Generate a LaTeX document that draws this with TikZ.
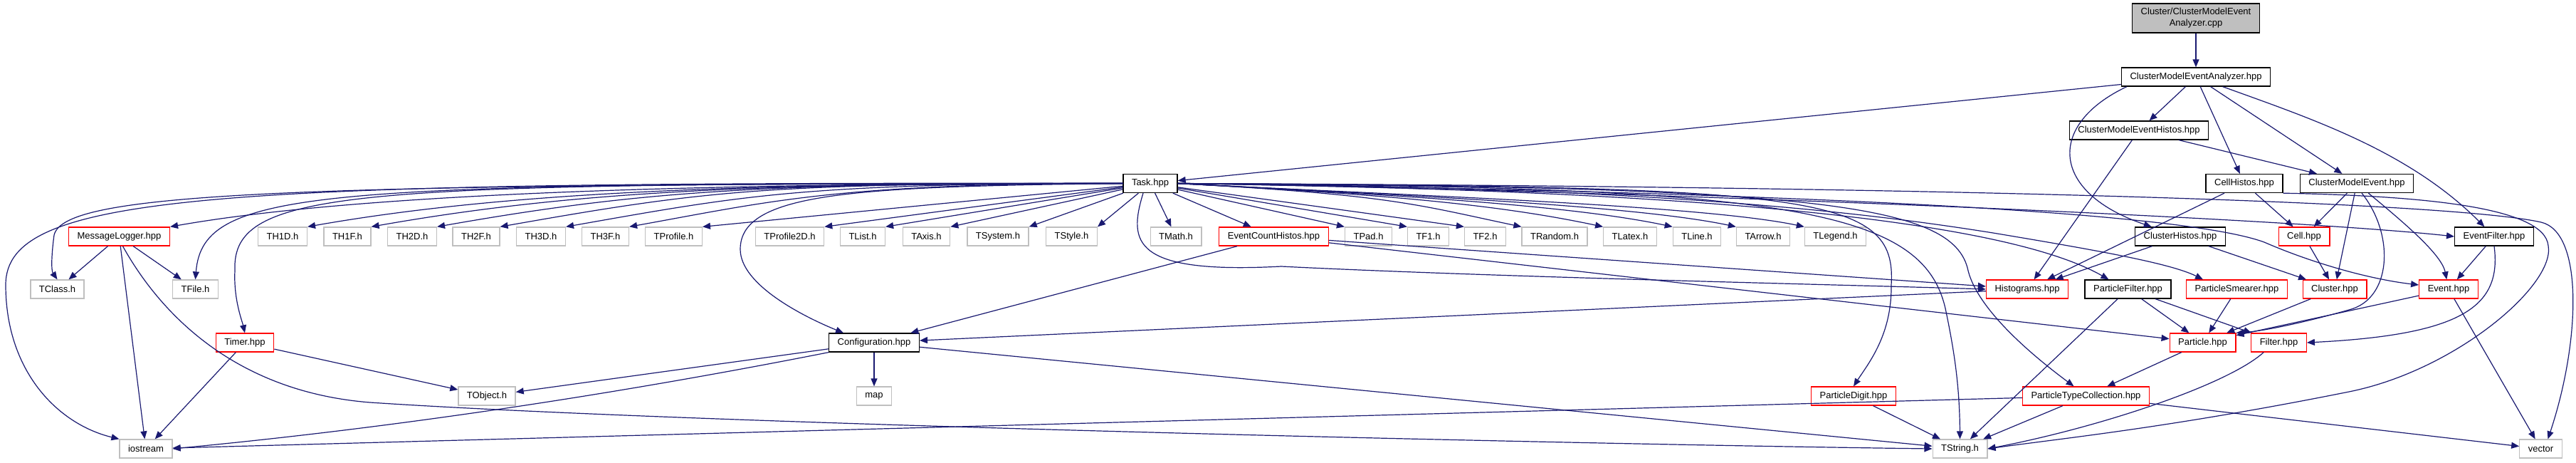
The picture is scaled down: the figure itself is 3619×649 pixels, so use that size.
\documentclass[tikz,border=0pt]{standalone}
\usepackage{fontspec}
\setmainfont{Liberation Sans}
\usetikzlibrary{arrows.meta}
\definecolor{edgeblue}{HTML}{191970}
\definecolor{sysgray}{HTML}{BFBFBF}
\tikzset{
  hdrbox/.style={draw, rectangle, fill=white, minimum height=26pt, inner xsep=12pt,
    inner ysep=0pt, line width=1.3pt, font=\fontsize{13}{16}\selectfont},
  sysbox/.style={hdrbox, draw=sysgray},
  redbox/.style={hdrbox, draw=red},
  blkbox/.style={hdrbox, draw=black},
  rootbox/.style={hdrbox, draw=black, fill=sysgray, align=center, minimum height=41pt},
  incarrow/.style={draw=edgeblue, line width=1.2pt, -{Triangle[length=11pt,width=9pt]}}
}

\begin{document}
\begin{tikzpicture}[x=1pt, y=1pt]
    \useasboundingbox (0,0) rectangle (3619,-649);
    % ranks 0 to 3
    \node[rootbox] (root) at (3085,-25.5) {Cluster/ClusterModelEvent\\Analyzer.cpp};
    \node[blkbox] (cmea) at (3085,-108) {ClusterModelEventAnalyzer.hpp};
    \node[blkbox] (cmeh) at (3005,-183) {ClusterModelEventHistos.hpp};
    \node[blkbox] (task) at (1616,-257.5) {Task.hpp};
    \node[blkbox] (cellhistos) at (3153,-257.5) {CellHistos.hpp};
    \node[blkbox] (cmevent) at (3311,-257.5) {ClusterModelEvent.hpp};
    % rank 4
    \node[redbox] (msglog) at (167.5,-332) {MessageLogger.hpp};
    \node[sysbox] (th1d) at (397,-332) {TH1D.h};
    \node[sysbox] (th1f) at (488,-332) {TH1F.h};
    \node[sysbox] (th2d) at (579,-332) {TH2D.h};
    \node[sysbox] (th2f) at (669,-332) {TH2F.h};
    \node[sysbox] (th3d) at (760,-332) {TH3D.h};
    \node[sysbox] (th3f) at (850.5,-332) {TH3F.h};
    \node[sysbox] (tprofile) at (946.5,-332) {TProfile.h};
    \node[sysbox] (tprofiletwod) at (1109.5,-332) {TProfile2D.h};
    \node[sysbox] (tlist) at (1212,-332) {TList.h};
    \node[sysbox] (taxis) at (1301.5,-332) {TAxis.h};
    \node[sysbox] (tsystem) at (1402,-332) {TSystem.h};
    \node[sysbox] (tstyle) at (1505.5,-332) {TStyle.h};
    \node[sysbox] (tmath) at (1652,-332) {TMath.h};
    \node[redbox] (echistos) at (1789.5,-332) {EventCountHistos.hpp};
    \node[sysbox] (tpad) at (1922.5,-332) {TPad.h};
    \node[sysbox] (tfone) at (2006.5,-332) {TF1.h};
    \node[sysbox] (tftwo) at (2086.5,-332) {TF2.h};
    \node[sysbox] (trandom) at (2184,-332) {TRandom.h};
    \node[sysbox] (tlatex) at (2290,-332) {TLatex.h};
    \node[sysbox] (tline) at (2384,-332) {TLine.h};
    \node[sysbox] (tarrow) at (2477,-332) {TArrow.h};
    \node[sysbox] (tlegend) at (2578.5,-332) {TLegend.h};
    \node[blkbox] (clhistos) at (3063,-332) {ClusterHistos.hpp};
    \node[redbox] (cell) at (3237,-332) {Cell.hpp};
    \node[blkbox] (evfilter) at (3504,-332) {EventFilter.hpp};
    % rank 5
    \node[sysbox] (tclass) at (80.5,-406) {TClass.h};
    \node[sysbox] (tfile) at (274.5,-406) {TFile.h};
    \node[redbox] (histograms) at (2848,-406) {Histograms.hpp};
    \node[blkbox] (pfilter) at (2989.5,-406) {ParticleFilter.hpp};
    \node[redbox] (psmearer) at (3142.5,-406) {ParticleSmearer.hpp};
    \node[redbox] (cluster) at (3280,-406) {Cluster.hpp};
    \node[redbox] (event) at (3440,-406) {Event.hpp};
    % rank 6
    \node[redbox] (timer) at (344,-481) {Timer.hpp};
    \node[blkbox] (config) at (1228,-481) {Configuration.hpp};
    \node[redbox] (particle) at (3094.5,-481) {Particle.hpp};
    \node[redbox] (filter) at (3201.5,-481) {Filter.hpp};
    % rank 7
    \node[sysbox] (tobject) at (684,-556) {TObject.h};
    \node[sysbox] (map) at (1228,-556) {map};
    \node[redbox] (pdigit) at (2604,-556) {ParticleDigit.hpp};
    \node[redbox] (ptcoll) at (2930.5,-556) {ParticleTypeCollection.hpp};
    % rank 8
    \node[sysbox] (iostream) at (205,-630) {iostream};
    \node[sysbox] (tstring) at (2753.5,-630) {TString.h};
    \node[sysbox] (vector) at (3569.5,-630) {vector};

    % analyzer side
    \draw[incarrow] (root) -- (cmea);
    \draw[incarrow] (cmea) -- (task);
    \draw[incarrow] (cmea) -- (cmeh);
    \draw[incarrow] ([xshift=8pt]cmea.south west) .. controls (2875,-175) and (2880,-270) .. (clhistos);
    \draw[incarrow] (cmea) -- (cellhistos);
    \draw[incarrow] (cmea) -- (cmevent);
    \draw[incarrow] (cmea) .. controls +(160,-58) and +(-121,121) .. (evfilter);
    \draw[incarrow] (cmeh) -- (histograms);
    \draw[incarrow] (cmeh) -- (cmevent);

    % Task.hpp, left
    \draw[incarrow] (task.west) .. controls (300,-255) and (8,-270) .. (8,-400)
      .. controls (8,-520) and (80,-595) .. (iostream.north west);
    \draw[incarrow] (task.west) .. controls (400,-258) and (90,-270) .. (76,-330)
      .. controls (72,-360) and (72,-380) .. (tclass.north);
    \draw[incarrow] (task.west) .. controls (450,-258) and (285,-262) .. (tfile.north);
    \draw[incarrow] (task.west) .. controls (500,-258) and (325,-262) .. (330,-380)
      .. controls (328,-420) and (340,-450) .. (timer.north);
    \draw[incarrow] (task.west) .. controls +(-500,0) and +(295,52) .. (msglog.north east);
    \draw[incarrow] (task.west) .. controls +(-500,0) and +(295,52) .. (th1d.north east);
    \draw[incarrow] (task.west) .. controls +(-500,0) and +(295,52) .. (th1f.north east);
    \draw[incarrow] (task.west) .. controls +(-500,0) and +(295,52) .. (th2d.north east);
    \draw[incarrow] (task.west) .. controls +(-500,0) and +(295,52) .. (th2f.north east);
    \draw[incarrow] (task.west) .. controls +(-450,0) and +(250,44) .. (th3d.north east);
    \draw[incarrow] (task.west) .. controls +(-400,0) and +(200,36) .. (th3f.north east);
    \draw[incarrow] (task) -- (tprofile.north east);
    \draw[incarrow] (task.west) .. controls (1200,-262) and (1040,-270) .. (1040,-350)
      .. controls (1040,-400) and (1130,-445) .. ([xshift=21pt]config.north west);
    \draw[incarrow] (task) -- (tprofiletwod.north east);
    \draw[incarrow] (task) -- (tlist.north east);
    \draw[incarrow] (task) -- (taxis.north east);
    \draw[incarrow] (task) -- (tsystem.north east);
    \draw[incarrow] (task) -- (tstyle.north east);
    \draw[incarrow] (task) -- (tmath);
    \draw[incarrow] (task) -- (echistos);

    % Task.hpp, right
    \draw[incarrow] (task) -- (tpad.north west);
    \draw[incarrow] (task) -- (tfone.north west);
    \draw[incarrow] (task) -- (tftwo.north west);
    \draw[incarrow] (task.east) .. controls +(300,-16) and +(-147,31) .. (trandom.north west);
    \draw[incarrow] (task.east) .. controls +(300,-16) and +(-147,31) .. (tlatex.north west);
    \draw[incarrow] (task.east) .. controls +(300,-16) and +(-147,31) .. (tline.north west);
    \draw[incarrow] (task.east) .. controls +(300,-16) and +(-147,31) .. (tarrow.north west);
    \draw[incarrow] (task.east) .. controls +(300,-16) and +(-147,31) .. (tlegend.north west);
    \draw[incarrow] ([xshift=-10pt]task.south) .. controls (1585,-340) and (1590,-385) .. (1800,-374)
      .. controls (2100,-389) and (2600,-400) .. (histograms.west);
    \draw[incarrow] (task.east) .. controls (2550,-262) and (2665,-272) .. (2657,-400)
      .. controls (2658,-470) and (2625,-510) .. (pdigit.north);
    \draw[incarrow] (task.east) .. controls (2500,-262) and (2700,-290) .. (2733,-433)
      .. controls (2745,-490) and (2753,-540) .. (tstring.north);
    \draw[incarrow] (task.east) .. controls (2550,-262) and (2745,-285) .. (2765,-380)
      .. controls (2780,-440) and (2870,-510) .. ([xshift=-17pt]ptcoll.north);
    \draw[incarrow] (task.east) .. controls (2300,-266) and (2800,-300) .. ([xshift=-27pt]pfilter.north);
    \draw[incarrow] (task.east) .. controls (2300,-262) and (2600,-295) .. (2800,-327)
      .. controls (2950,-352) and (3050,-370) .. ([xshift=24pt]psmearer.north west);
    \draw[incarrow] (task.east) .. controls (2400,-268) and (3050,-292) .. (3181,-340)
      .. controls (3250,-370) and (3330,-392) .. ([yshift=6pt]event.west);
    \draw[incarrow] (task.east) .. controls (2300,-268) and (3200,-305) .. (evfilter.west);
    \draw[incarrow] (task.east) .. controls (2800,-262) and (3450,-285) .. (3570,-312)
      .. controls (3630,-326) and (3625,-480) .. ([xshift=10pt]vector.north);

    % lower ranks
    \draw[incarrow] (msglog) -- (tclass);
    \draw[incarrow] (msglog) -- (tfile);
    \draw[incarrow] (msglog) -- (iostream);
    \draw[incarrow] ([xshift=5pt]msglog.south) .. controls (225,-440) and (330,-550) .. (520,-565)
      .. controls (1000,-597) and (2300,-625) .. (tstring.west);
    \draw[incarrow] (timer) -- (tobject);
    \draw[incarrow] (timer) -- (iostream);
    \draw[incarrow] (config) -- (map);
    \draw[incarrow] (config) -- (tobject);
    \draw[incarrow] (config.south west) .. controls (858,-555) and (549,-601) .. (iostream.east);
    \draw[incarrow] (config) -- (tstring);
    \draw[incarrow] (echistos) -- (config);
    \draw[incarrow] (echistos) -- (histograms);
    \draw[incarrow] (echistos) -- (particle);
    \draw[incarrow] (histograms) -- (config);
    \draw[incarrow] (pdigit) -- (tstring);
    \draw[incarrow] (cellhistos) -- (histograms);
    \draw[incarrow] (cellhistos) -- (cell);
    \draw[incarrow] (cellhistos.south east) .. controls (3400,-275) and (3575,-290) .. (3580,-345)
      .. controls (3590,-400) and (3450,-520) .. (3300,-550)
      .. controls (3050,-600) and (2900,-615) .. (tstring.east);
    \draw[incarrow] (cmevent) -- (cell);
    \draw[incarrow] (cmevent) -- (cluster);
    \draw[incarrow] (cmevent) .. controls +(60,-50) and +(-10,50) .. (event);
    \draw[incarrow] ([xshift=7pt]cmevent.south) .. controls (3365,-330) and (3360,-420) .. (3300,-435)
      .. controls (3240,-452) and (3180,-465) .. (particle.north east);
    \draw[incarrow] (clhistos) -- (histograms);
    \draw[incarrow] (clhistos) -- (cluster);
    \draw[incarrow] (cell) -- (cluster);
    \draw[incarrow] (evfilter) -- (event);
    \draw[incarrow] (evfilter.south) .. controls (3515,-430) and (3460,-470) .. (filter.east);
    \draw[incarrow] (pfilter) -- (particle);
    \draw[incarrow] (pfilter) -- (filter);
    \draw[incarrow] (pfilter) -- (tstring);
    \draw[incarrow] (psmearer) -- (particle);
    \draw[incarrow] (cluster) -- (particle);
    \draw[incarrow] (event) -- (particle);
    \draw[incarrow] (event) -- (vector);
    \draw[incarrow] (particle) -- (ptcoll);
    \draw[incarrow] ([xshift=18pt]filter.south west) .. controls (3130,-540) and (2950,-600) .. (tstring.east);
    \draw[incarrow] (ptcoll) -- (iostream);
    \draw[incarrow] (ptcoll) -- (tstring);
    \draw[incarrow] (ptcoll) -- (vector);
\end{tikzpicture}
\end{document}
